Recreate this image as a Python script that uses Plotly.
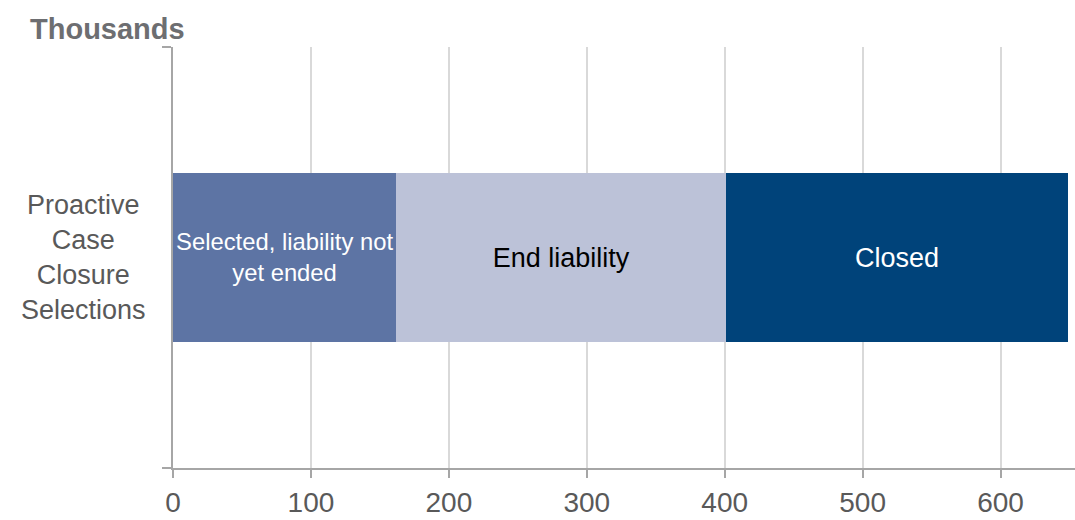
import plotly.graph_objects as go

# Stacked horizontal bar: Proactive Case Closure selections (thousands)
category = ["Proactive<br>Case<br>Closure<br>Selections"]
segments = ["Selected, liability not<br>yet ended", "End liability", "Closed"]
values = [162, 239, 248]
colors = ["#5D74A4", "#BCC2D8", "#00437A"]
text_colors = ["#FFFFFF", "#000000", "#FFFFFF"]
text_sizes = [24, 27, 27]
x_ticks = [0, 100, 200, 300, 400, 500, 600]

FONT = "Liberation Sans, Arial, sans-serif"
AXIS_GREY = "#A6A6A6"
LABEL_GREY = "#595959"
X_MAX = 654
PLOT_LEFT = 173
PLOT_WIDTH = 1075 - PLOT_LEFT

fig = go.Figure()
for name, v, c, tc, ts in zip(segments, values, colors, text_colors, text_sizes):
    fig.add_trace(go.Bar(
        y=category, x=[v], name=name, orientation="h",
        marker=dict(color=c, line=dict(width=0)),
        text=[name], textposition="inside", insidetextanchor="middle",
        textfont=dict(family=FONT, size=ts, color=tc),
        hoverinfo="x+name",
    ))

# Category label, centred multi-line to the left of the axis
fig.add_annotation(
    text=category[0], xref="paper", x=-90 / PLOT_WIDTH, xanchor="center",
    yref="y", y=category[0], yanchor="middle", align="center",
    showarrow=False, font=dict(family=FONT, size=27, color=LABEL_GREY),
)

fig.update_layout(
    barmode="stack",
    bargap=0.6,
    width=1075, height=520,
    margin=dict(l=PLOT_LEFT, r=0, t=47, b=52, autoexpand=False),
    plot_bgcolor="white", paper_bgcolor="white",
    showlegend=False,
    font=dict(family=FONT, color=LABEL_GREY),
    title=dict(
        text="<b>Thousands</b>",
        font=dict(family=FONT, size=29, color="#6D6E71"),
        xref="container", x=30 / 1075, xanchor="left",
        yref="container", y=1 - 29 / 520, yanchor="middle",
    ),
    xaxis=dict(
        range=[0, X_MAX], tickvals=x_ticks,
        showgrid=True, gridcolor="#D9D9D9", gridwidth=2,
        showline=True, linecolor=AXIS_GREY, linewidth=2,
        ticks="outside", ticklen=8, tickwidth=2, tickcolor=AXIS_GREY,
        tickfont=dict(family=FONT, size=28, color=LABEL_GREY),
        zeroline=False, fixedrange=True,
    ),
    yaxis=dict(
        showline=True, linecolor=AXIS_GREY, linewidth=2,
        ticks="outside", ticklen=9, tickwidth=2, tickcolor=AXIS_GREY,
        tickson="boundaries", showticklabels=False,
        showgrid=False, fixedrange=True,
    ),
)

fig.write_html("out.html")
